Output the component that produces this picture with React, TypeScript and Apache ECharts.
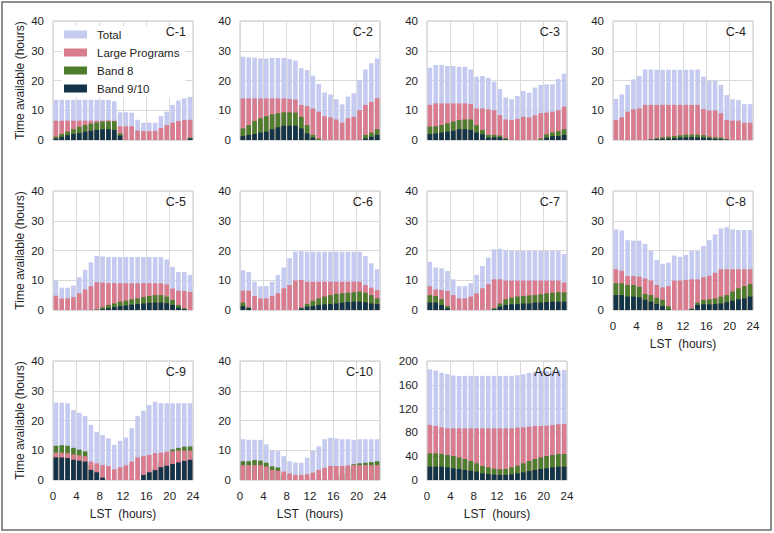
import { useEffect, useRef } from "react";
import * as echarts from "echarts";

const lstHours = [0.5, 1.5, 2.5, 3.5, 4.5, 5.5, 6.5, 7.5, 8.5, 9.5, 10.5, 11.5, 12.5, 13.5, 14.5, 15.5, 16.5, 17.5, 18.5, 19.5, 20.5, 21.5, 22.5, 23.5];
const xTicks = [0, 4, 8, 12, 16, 20, 24];
const seriesNames = ["Total", "Large Programs", "Band 8", "Band 9/10"];
const panelNames = ["C-1", "C-2", "C-3", "C-4", "C-5", "C-6", "C-7", "C-8", "C-9", "C-10", "ACA"];

const c1Total = [13.5, 13.5, 13.5, 13.5, 13.5, 13.5, 13.5, 13.5, 13.5, 13.5, 13, 9.3, 9.3, 9.2, 6.8, 5.8, 5.8, 5.8, 8, 9.5, 11.8, 13.3, 14, 14.5];
const c1Large = [6.5, 6.5, 6.5, 6.5, 6.5, 6.5, 6.5, 6.5, 6.5, 6.6, 6.5, 4.6, 4.6, 4.6, 3.2, 3, 3, 3, 4, 5, 5.8, 6.4, 6.7, 6.8];
const c1Band8 = [1.1, 2, 2.8, 3.6, 4.4, 5, 5.5, 5.9, 6.2, 6.3, 6.3, 2.2, 0, 0, 0, 0, 0, 0, 0, 0, 0, 0, 0, 0.8];
const c1Band910 = [0.5, 1.1, 1.6, 2, 2.3, 2.8, 3.1, 3.4, 3.6, 3.6, 3.4, 1.5, 0, 0, 0, 0, 0, 0, 0, 0, 0, 0, 0, 0.5];

const c2Total = [28, 27.8, 27.7, 27.4, 27.4, 27.6, 27.6, 27.6, 27.2, 26.7, 24.1, 23.5, 21.6, 18.8, 16, 15.3, 13.7, 12, 14.6, 15.7, 20.2, 23.7, 25.8, 27.4];
const c2Large = [14, 14, 14, 14, 14, 14, 14, 14, 13.8, 13.6, 11.8, 11.4, 10.6, 9.5, 8, 7.6, 6.9, 5.8, 7.3, 7.8, 10, 11.8, 12.8, 14];
const c2Band8 = [3.9, 5, 6.4, 7.3, 8, 8.6, 9, 9.3, 9.3, 9.2, 7.8, 5, 1.7, 0.5, 0, 0, 0, 0, 0, 0, 0, 1.7, 2.5, 3.6];
const c2Band910 = [1.3, 1.7, 2, 2.5, 2.8, 3.6, 4.3, 4.8, 4.8, 4.8, 3.9, 2.2, 0.8, 0, 0, 0, 0, 0, 0, 0, 0, 0.5, 1.1, 1.7];

const c3Total = [24.3, 25.2, 25.2, 24.9, 24.9, 24.6, 24.6, 23.7, 21.3, 21.5, 20.9, 19.6, 17.1, 14.3, 13.7, 14.8, 16.5, 15.9, 17.6, 18.5, 18.7, 18.7, 20.5, 22.3];
const c3Large = [11.8, 12.3, 12.3, 12.3, 12.3, 12.3, 12.3, 12.1, 10.6, 10.6, 10.3, 10, 8.4, 6.9, 6.7, 7.1, 7.8, 7.6, 8.3, 9, 9.2, 9.5, 10, 11.2];
const c3Band8 = [4.5, 4.6, 5, 5.6, 6.2, 6.7, 6.9, 6.9, 5, 3.4, 1.7, 1.7, 1.5, 0.6, 0, 0, 0, 0, 0, 0.5, 1.9, 2.5, 3, 3.6];
const c3Band910 = [2, 2.2, 2.5, 2.8, 3.1, 3.6, 3.6, 3.4, 2.5, 1.9, 0.8, 0.9, 0.9, 0.2, 0, 0, 0, 0, 0, 0, 0.8, 1.3, 1.3, 1.7];

const c4Total = [13.8, 15.3, 18.5, 20.4, 21.5, 23.7, 23.7, 23.6, 23.6, 23.6, 23.6, 23.6, 23.6, 23.6, 23.7, 21.3, 19.9, 19.9, 18.5, 15.1, 13.7, 13.4, 12.1, 12.1];
const c4Large = [6.7, 7.6, 9.5, 10.3, 10.6, 11.8, 11.8, 11.8, 11.8, 11.8, 11.8, 11.8, 11.8, 11.8, 11.8, 10.4, 9.9, 9.9, 9, 6.7, 6.5, 6.5, 5.8, 5.8];
const c4Band8 = [0, 0, 0, 0, 0, 0, 0.2, 0.6, 0.9, 1.1, 1.3, 1.6, 1.8, 1.8, 1.8, 1.6, 1.1, 0.9, 0.8, 0.3, 0, 0, 0, 0];
const c4Band910 = [0, 0, 0, 0, 0, 0, 0.1, 0.3, 0.4, 0.5, 0.6, 0.8, 0.9, 0.9, 0.9, 0.8, 0.6, 0.4, 0.3, 0.1, 0, 0, 0, 0];

const c5Total = [9.8, 7.5, 7.5, 8.2, 11, 13.5, 16, 18.2, 18, 17.8, 17.8, 17.8, 17.8, 17.8, 17.8, 17.8, 17.8, 17.8, 17.8, 17, 14.5, 12.8, 12.8, 11.8];
const c5Large = [4.8, 3.9, 3.9, 4.3, 5.6, 6.9, 8, 9.3, 9.2, 9, 9, 9, 9, 9, 9, 9, 9, 9, 9, 8.6, 7.2, 6.5, 6.4, 6.1];
const c5Band8 = [0, 0, 0, 0, 0, 0, 0, 0.2, 0.9, 1.7, 2.2, 2.8, 3.1, 3.6, 3.9, 4.3, 4.7, 5, 5, 4.5, 3.4, 1.7, 0.6, 0];
const c5Band910 = [0, 0, 0, 0, 0, 0, 0, 0, 0.3, 0.6, 1, 1.3, 1.5, 1.8, 2, 2.2, 2.4, 2.5, 2.5, 2.3, 1.7, 0.8, 0.3, 0];

const c6Total = [13.4, 12.7, 9.5, 8, 8, 9.5, 11.8, 14.3, 17.4, 19.6, 19.8, 19.6, 19.6, 19.6, 19.6, 19.6, 19.6, 19.6, 19.6, 19.6, 19.6, 18.1, 15.7, 13.7];
const c6Large = [6.5, 6.5, 4.7, 3.9, 3.9, 4.7, 5.6, 7.3, 8.4, 9.9, 10.1, 9.5, 9.5, 9.5, 9.5, 9.5, 9.5, 9.5, 9.5, 9.5, 9.5, 8.4, 7.5, 6.7];
const c6Band8 = [2.5, 0.9, 0, 0, 0, 0, 0, 0, 0, 0, 0.8, 2, 3.1, 3.9, 4.5, 5, 5.4, 5.6, 5.8, 6, 6.2, 5.8, 5, 3.9];
const c6Band910 = [1.3, 0.6, 0, 0, 0, 0, 0, 0, 0, 0, 0.5, 1.1, 1.3, 1.7, 1.9, 2, 2.2, 2.5, 2.7, 2.8, 2.8, 2.6, 2.2, 2];

const c7Total = [16.2, 14.3, 14, 13.1, 10.3, 8, 8, 9, 11.8, 14.8, 17.6, 20.4, 20.6, 20.2, 19.9, 19.8, 19.8, 19.8, 19.8, 19.8, 19.8, 19.8, 19.8, 18.8];
const c7Large = [8, 6.9, 6.7, 6.4, 5, 3.9, 3.9, 4.5, 5.6, 7.3, 8.7, 10.3, 10.3, 9.9, 9.9, 9.9, 9.9, 9.9, 9.9, 9.9, 9.9, 9.9, 9.9, 9.2];
const c7Band8 = [5, 4.7, 3.6, 1.3, 0, 0, 0, 0, 0, 0, 0, 0.6, 2.2, 3.6, 4.1, 4.5, 4.7, 4.9, 5, 5.3, 5.6, 5.8, 6, 5.9];
const c7Band910 = [2.5, 2.5, 1.7, 0.6, 0, 0, 0, 0, 0, 0, 0, 0.2, 1.1, 1.7, 1.9, 2, 2.2, 2.2, 2.5, 2.5, 2.7, 2.8, 2.8, 2.8];

const c8Total = [27.1, 26.7, 23.5, 23.3, 23.3, 22.2, 19.8, 16.8, 15.5, 15.9, 18.3, 17.9, 18.5, 19.8, 19.8, 21.5, 23.5, 25.4, 27.4, 27.8, 27.1, 26.9, 26.9, 26.9];
const c8Large = [13.7, 13.2, 11.4, 11.4, 11.2, 10.6, 9.9, 8.4, 7.6, 8, 9.9, 9.9, 10.1, 10.3, 10.3, 11, 11.5, 12.5, 13.7, 13.7, 13.7, 13.7, 13.7, 13.7];
const c8Band8 = [9, 9, 8.4, 8.4, 7.8, 5.4, 5, 4.1, 3.4, 1.3, 0, 0, 0, 0.5, 2.5, 3.4, 3.6, 3.9, 4.5, 5, 6.2, 7.3, 8, 8.7];
const c8Band910 = [5, 5, 4.5, 4.5, 4.3, 3.4, 2.8, 2, 1.3, 0.2, 0, 0, 0, 0.2, 1.7, 1.9, 1.9, 2, 2.2, 2.6, 3.1, 3.6, 3.9, 4.5];

const c9Total = [26, 26, 25.8, 23.5, 22.6, 21.5, 18.5, 16.2, 15.1, 14, 11.8, 13.2, 14.3, 17.4, 21.5, 23.3, 25.2, 26.3, 25.8, 25.8, 25.8, 25.8, 25.8, 25.8];
const c9Large = [9.2, 9.2, 9, 8.6, 8.3, 8, 6.2, 5.6, 5, 4.7, 3.6, 4.3, 5, 6.2, 7.6, 8, 8.4, 9, 9.2, 9.5, 9.7, 9.9, 9.9, 9.9];
const c9Band8 = [11.5, 11.7, 11.5, 10.8, 10.2, 9.6, 5, 3, 1, 0, 0, 0, 0, 0, 0, 2, 3, 4, 6, 8.5, 10.3, 10.8, 11.2, 11.3];
const c9Band910 = [7.6, 7.6, 7.4, 6.8, 6.5, 6.2, 3.4, 2.6, 0.8, 0, 0, 0, 0, 0, 0, 1.7, 2.6, 3.3, 4.3, 4.8, 5.4, 5.9, 6.4, 6.8];

const c10Total = [13.7, 13.5, 13.5, 13.5, 12, 10, 9.7, 8, 6.3, 5.9, 5.8, 7.5, 9.8, 11.3, 13.7, 14.2, 14, 13.7, 13.7, 13.5, 13.7, 13.7, 13.7, 13.7];
const c10Large = [5, 5, 5, 5, 4.5, 3.4, 3.1, 2.8, 2.2, 1.7, 1.7, 1.9, 2.5, 3.4, 4.1, 4.7, 4.7, 4.7, 4.9, 5, 5, 5, 5, 5];
const c10Band8 = [6.3, 6.3, 6.7, 6.5, 5.8, 4.6, 4.2, 1.5, 0, 0, 0, 0, 0, 0, 0, 0, 1, 2, 4, 5.3, 5.6, 5.8, 6, 6.3];
const c10Band910 = [0, 0, 0, 0, 0, 0, 0, 0, 0, 0, 0, 0, 0, 0, 0, 0, 0, 0, 0, 0, 0, 0, 0, 0];

const acaTotal = [186, 184, 180, 178, 175.6, 175, 175, 175, 175, 175, 175, 175, 175, 175, 175, 176, 177.6, 180, 182, 183, 183, 184, 184, 185];
const acaLarge = [92.4, 90.8, 88.5, 86.8, 86.8, 86.8, 86.8, 86.8, 86.8, 86.8, 86.8, 86.8, 86.8, 86.8, 86.8, 88, 88.5, 89.6, 90.8, 90.8, 91.3, 92.4, 93.6, 94];
const acaBand8 = [44.8, 44.8, 43.7, 42, 40.3, 38, 35.3, 32, 28, 23.5, 21.3, 19, 18, 18.5, 21.3, 24, 28, 32, 35.3, 38, 40.3, 42, 43.7, 43.7];
const acaBand910 = [22.4, 22.4, 22.4, 21.3, 19.6, 18.5, 16.8, 15.7, 14, 11.2, 10, 9, 8.4, 8.4, 9.5, 11.2, 12.9, 15, 16.8, 18.5, 19.6, 21.3, 22.4, 22.4];

const panelData = [
  [c1Total, c1Large, c1Band8, c1Band910],
  [c2Total, c2Large, c2Band8, c2Band910],
  [c3Total, c3Large, c3Band8, c3Band910],
  [c4Total, c4Large, c4Band8, c4Band910],
  [c5Total, c5Large, c5Band8, c5Band910],
  [c6Total, c6Large, c6Band8, c6Band910],
  [c7Total, c7Large, c7Band8, c7Band910],
  [c8Total, c8Large, c8Band8, c8Band910],
  [c9Total, c9Large, c9Band8, c9Band910],
  [c10Total, c10Large, c10Band8, c10Band910],
  [acaTotal, acaLarge, acaBand8, acaBand910],
];
const panelYMax = [40, 40, 40, 40, 40, 40, 40, 40, 40, 40, 200];
const panelYInterval = [10, 10, 10, 10, 10, 10, 10, 10, 10, 10, 40];
// panels where Band 8 is painted beneath Large Programs
const band8Beneath = ["C-9", "C-10"];

const COLORS = ["#c5caf0", "#d97c8d", "#4f7d2e", "#133349"];
const FONT = "'Liberation Sans', Arial, sans-serif";
const TEXT = "#1e1e1e";

const colLeft = [53, 240, 427, 613];
const rowTop = [21, 191, 361];
const PW = 140;
const PH = 119;

export default function App() {
  const ref = useRef<HTMLDivElement>(null);
  useEffect(() => {
    if (!ref.current) return;
    const chart = echarts.init(ref.current, undefined, { renderer: "svg" });
    const grids: any[] = [];
    const xAxes: any[] = [];
    const yAxes: any[] = [];
    const series: any[] = [];
    const graphics: any[] = [];

    panelNames.forEach((pname, i) => {
      const row = Math.floor(i / 4);
      const col = i % 4;
      const left = colLeft[col];
      const top = rowTop[row];
      const bottomRow = i >= 7;
      grids.push({
        left,
        top,
        width: PW,
        height: PH,
        show: true,
        backgroundColor: "#ffffff",
        borderColor: "#c6c6c6",
        borderWidth: 1,
      });
      xAxes.push({
        type: "value",
        gridIndex: i,
        min: 0,
        max: 24,
        interval: 4,
        axisLine: { show: false },
        axisTick: { show: false },
        splitLine: { show: true, lineStyle: { color: "#dadada", width: 1 } },
        axisLabel: {
          show: bottomRow,
          fontSize: 11.5,
          color: TEXT,
          fontFamily: FONT,
          margin: 10,
          customValues: xTicks,
        },
        name: bottomRow ? "LST  (hours)" : "",
        nameLocation: "middle",
        nameGap: 28,
        nameTextStyle: { fontSize: 12, color: TEXT, fontFamily: FONT },
      });
      yAxes.push({
        type: "value",
        gridIndex: i,
        min: 0,
        max: panelYMax[i],
        interval: panelYInterval[i],
        axisLine: { show: false },
        axisTick: { show: false },
        splitLine: { show: true, lineStyle: { color: "#dadada", width: 1 } },
        axisLabel: { fontSize: 11.5, color: TEXT, fontFamily: FONT, margin: 9 },
        name: col === 0 ? "Time available (hours)" : "",
        nameLocation: "middle",
        nameGap: 27,
        nameRotate: 90,
        nameTextStyle: { fontSize: 12, color: TEXT, fontFamily: FONT },
      });
      const order = band8Beneath.includes(pname) ? [0, 2, 1, 3] : [0, 1, 2, 3];
      order.forEach((s) => {
        series.push({
          type: "bar",
          name: seriesNames[s],
          xAxisIndex: i,
          yAxisIndex: i,
          barWidth: 4.6,
          barGap: "-100%",
          itemStyle: { color: COLORS[s] },
          emphasis: { disabled: true },
          data: lstHours.map((h, k) => [h, panelData[i][s][k]]),
        });
      });
      graphics.push({
        type: "text",
        x: left + PW - 7,
        y: top + 4,
        style: {
          text: pname,
          fontSize: 12.5,
          fontFamily: FONT,
          fill: TEXT,
          textAlign: "right",
          textVerticalAlign: "top",
        },
        z: 100,
      });
    });

    graphics.push({
      type: "rect",
      shape: { x: 2, y: 2, width: 769, height: 528 },
      style: { fill: "none", stroke: "#6a6a6a", lineWidth: 1.5 },
      z: 100,
    });

    chart.setOption({
      animation: false,
      grid: grids,
      xAxis: xAxes,
      yAxis: yAxes,
      series,
      graphic: graphics,
      legend: {
        data: seriesNames,
        orient: "vertical",
        left: 62,
        top: 26,
        itemWidth: 23,
        itemHeight: 8,
        itemGap: 5,
        icon: "rect",
        padding: [2, 6, 2, 2],
        backgroundColor: "#ffffff",
        textStyle: { fontSize: 11.5, color: TEXT, fontFamily: FONT, padding: [0, 0, 0, 5], lineHeight: 13 },
        selectedMode: false,
      },
    });
    return () => chart.dispose();
  }, []);
  return (
    <div
      ref={ref}
      style={{ position: "absolute", left: 0, top: 0, width: 774, height: 533, background: "#ffffff" }}
    />
  );
}
